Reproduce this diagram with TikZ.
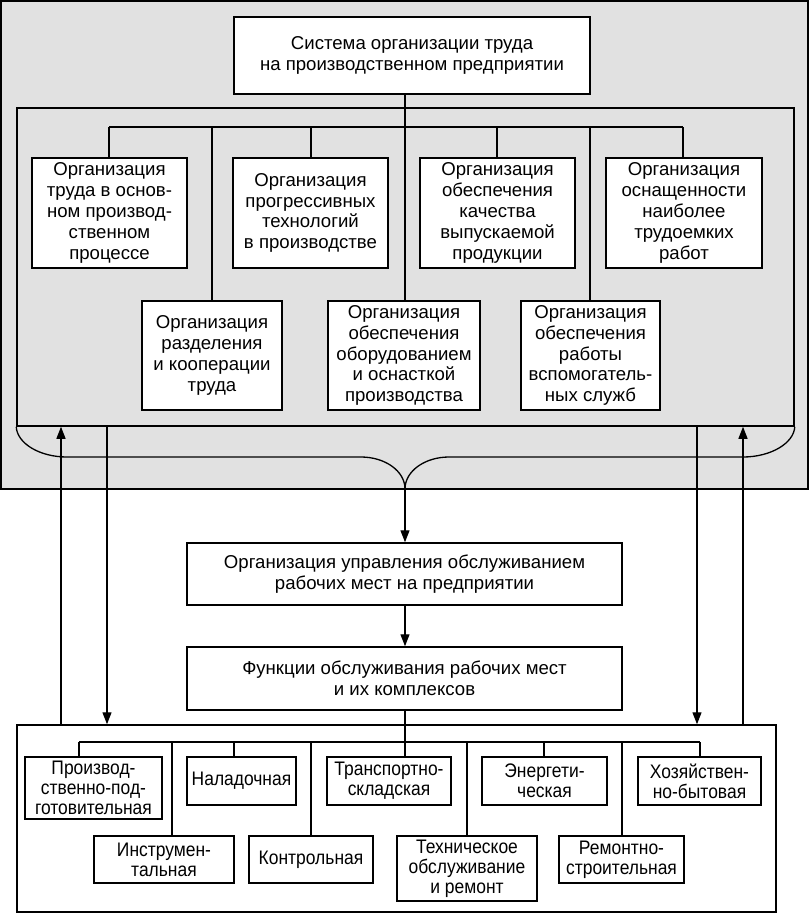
\documentclass[tikz,border=0pt]{standalone}
\usepackage{fontspec}
\setmainfont{Liberation Sans}
\newfontfamily\narrowfont{Liberation Sans}[FakeStretch=0.89]
\usetikzlibrary{arrows.meta}
\definecolor{panel}{RGB}{225,225,225}
\newcommand\mkbox[7][box]{\node[#1,minimum width={#5pt-#3pt},minimum height={#6pt-#4pt}] (#2) at ({(#3+#5)/2},{(#4+#6)/2}) {#7};}
\begin{document}
\begin{tikzpicture}[x=1pt,y=-1pt,
  box/.style={draw,fill=white,line width=1.5pt,inner sep=0pt,align=center,font=\fontsize{18.6}{20.8}\selectfont},
  nbox/.style={box,font=\narrowfont\fontsize{19.6}{20}\selectfont},
  frame/.style={draw,line width=1.5pt,inner sep=0pt},
  ln/.style={line width=1.3pt},
  arr/.style={ln,-{Triangle[length=12pt,width=9pt]}}]
\useasboundingbox (0,0) rectangle (809,913);
% containers
\mkbox[frame,fill=panel,line width=2.2pt]{outer}{1}{1}{808}{489}{}
\mkbox[frame]{inner}{17}{108}{794}{426}{}
\mkbox[frame]{bot}{17}{725}{776}{912}{}
% coordinates
\coordinate (cusp) at (405,489);
\coordinate (bus) at (405,127);
\foreach \n/\x in {1/109,2/212,3/311,4/405,5/497,6/590,7/683}{\coordinate (d\n) at (\x,127);}
\coordinate (bus2) at (405,742);
\foreach \n/\x in {1/79,2/172,3/234,4/311,5/405,6/467,7/544,8/622,9/700}{\coordinate (e\n) at (\x,742);}
\coordinate (s1) at (61,0);
\coordinate (s2) at (107,0);
\coordinate (s3) at (697,0);
\coordinate (s4) at (743,0);
% brace
\draw[ln] (inner.south west) .. controls (17,443) and (39,457) .. (67,457) -- (361,457) .. controls (385,457) and (405,471) .. (cusp);
\draw[ln] (cusp) .. controls (405,471) and (425,457) .. (449,457) -- (743,457) .. controls (771,457) and (794,443) .. (inner.south east);
% top
\mkbox{T}{234}{17}{590}{94}{Система организации труда\\на производственном предприятии}
\mkbox{A1}{32}{158}{187}{268}{Организация\\труда в основ-\\ном производ-\\ственном\\процессе}
\mkbox{A2}{233}{158}{388}{268}{Организация\\прогрессивных\\технологий\\в производстве}
\mkbox{A3}{420}{158}{575}{268}{Организация\\обеспечения\\качества\\выпускаемой\\продукции}
\mkbox{A4}{606}{158}{762}{268}{Организация\\оснащенности\\наиболее\\трудоемких\\работ}
\mkbox{B1}{142}{301}{282}{410}{Организация\\разделения\\и кооперации\\труда}
\mkbox{B2}{328}{301}{480}{410}{Организация\\обеспечения\\оборудованием\\и оснасткой\\производства}
\mkbox{B3}{521}{301}{660}{410}{Организация\\обеспечения\\работы\\вспомогатель-\\ных служб}
\draw[ln] (T.south -| bus) -- (bus);
\draw[ln] (d1) -- (d7);
\draw[ln] (d1) -- (d1 |- A1.north);
\draw[ln] (d2) -- (d2 |- B1.north);
\draw[ln] (d3) -- (d3 |- A2.north);
\draw[ln] (d4) -- (d4 |- B2.north);
\draw[ln] (d5) -- (d5 |- A3.north);
\draw[ln] (d6) -- (d6 |- B3.north);
\draw[ln] (d7) -- (d7 |- A4.north);
% middle
\mkbox{M1}{187}{543}{622}{605}{Организация управления обслуживанием\\рабочих мест на предприятии}
\mkbox{M2}{187}{647}{622}{710}{Функции обслуживания рабочих мест\\и их комплексов}
\draw[arr] (cusp) -- (cusp |- M1.north);
\draw[arr] (cusp |- M1.south) -- (cusp |- M2.north);
\draw[ln] (bus2 |- M2.south) -- (bus2);
% side arrows
\draw[arr] (s1 |- bot.north) -- (s1 |- inner.south);
\draw[arr] (s2 |- inner.south) -- (s2 |- bot.north);
\draw[arr] (s3 |- inner.south) -- (s3 |- bot.north);
\draw[arr] (s4 |- bot.north) -- (s4 |- inner.south);
% bottom
\mkbox[nbox]{C1}{25}{757}{162}{819}{Производ-\\ственно-под-\\готовительная}
\mkbox[nbox]{C2}{187}{757}{296}{805}{Наладочная}
\mkbox[nbox]{C3}{327}{757}{451}{805}{Транспортно-\\складская}
\mkbox[nbox]{C4}{482}{757}{607}{805}{Энергети-\\ческая}
\mkbox[nbox]{C5}{638}{757}{761}{805}{Хозяйствен-\\но-бытовая}
\mkbox[nbox]{D1}{94}{836}{234}{883}{Инструмен-\\тальная}
\mkbox[nbox]{D2}{249}{836}{373}{883}{Контрольная}
\mkbox[nbox]{D3}{397}{836}{537}{901}{Техническое\\обслуживание\\и ремонт}
\mkbox[nbox]{D4}{559}{836}{684}{883}{Ремонтно-\\строительная}
\draw[ln] (e1) -- (e9);
\draw[ln] (e1) -- (e1 |- C1.north);
\draw[ln] (e2) -- (e2 |- D1.north);
\draw[ln] (e3) -- (e3 |- C2.north);
\draw[ln] (e4) -- (e4 |- D2.north);
\draw[ln] (e5) -- (e5 |- C3.north);
\draw[ln] (e6) -- (e6 |- D3.north);
\draw[ln] (e7) -- (e7 |- C4.north);
\draw[ln] (e8) -- (e8 |- D4.north);
\draw[ln] (e9) -- (e9 |- C5.north);
\end{tikzpicture}
\end{document}
